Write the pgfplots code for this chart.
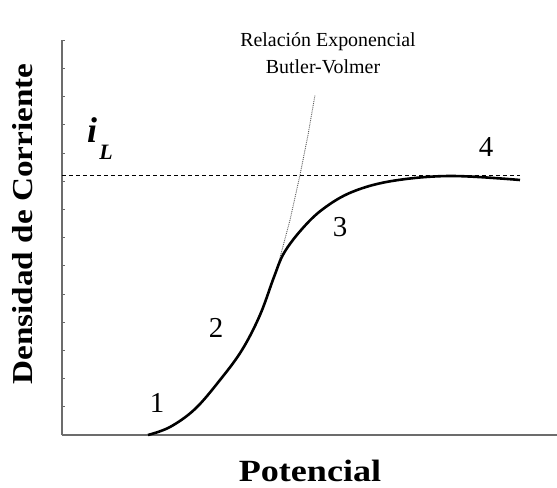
\documentclass[border=0pt]{standalone}
\usepackage{fontspec}
\setmainfont{Liberation Serif}
\usepackage{graphicx}
\usepackage{pgfplots}
\pgfplotsset{compat=1.18}

\begin{document}
\begin{tikzpicture}
\begin{axis}[
    scale only axis,
    width=495bp, height=395bp,
    xmin=0, xmax=495,
    ymin=0, ymax=395,
    axis x line*=bottom,
    axis y line*=left,
    axis line style={gray!85!black, line width=1.4bp},
    xtick=\empty,
    ytick={0,28.2,...,395},
    yticklabels={},
    tick align=inside,
    major tick length=3bp,
    tick style={gray!80!black, line width=0.8bp},
    clip=false,
]
% limiting current level
\addplot[black, line width=0.8bp, dash pattern=on 4bp off 3bp] coordinates {(0,260) (458,260)};
% Butler-Volmer exponential extrapolation
\addplot[gray!70!black, line width=0.9bp, densely dotted] coordinates {
    (216,170) (228,215) (238,260) (246,300) (253,340)};
% polarization curve
\addplot[black, line width=2.6bp, smooth, tension=0.6] coordinates {
    (86,0) (108,8) (133,26) (158,55) (180,85) (198,120) (212,158)
    (222,182) (240,206) (261,226) (290,243) (330,254) (388,259) (458,255)};

\node[anchor=base, font=\fontsize{20}{24}\selectfont] at (axis cs:266,388) {Relación Exponencial};
\node[anchor=base, font=\fontsize{20}{24}\selectfont] at (axis cs:261,361) {Butler-Volmer};
\node[anchor=base, font=\fontsize{29}{32}\selectfont] at (axis cs:95,23) {1};
\node[anchor=base, font=\fontsize{29}{32}\selectfont] at (axis cs:154,97) {2};
\node[anchor=base, font=\fontsize{29}{32}\selectfont] at (axis cs:278,198) {3};
\node[anchor=base, font=\fontsize{29}{32}\selectfont] at (axis cs:424,278) {4};
\node[anchor=base, font=\fontsize{36}{40}\selectfont\bfseries\itshape] at (axis cs:30,292) {i};
\node[anchor=base, font=\fontsize{22}{26}\selectfont\bfseries\itshape] at (axis cs:44,275) {L};
\node[anchor=base, font=\fontsize{31}{34}\selectfont\bfseries] at (axis cs:248,-46) {\scalebox{1.17}[1]{Potencial}};
\node[rotate=90, anchor=center, font=\fontsize{29}{32}\selectfont\bfseries] at (axis cs:-39,211) {\scalebox{1.15}[1]{Densidad de Corriente}};

\coordinate (bbll) at (axis cs:-62,-53);
\coordinate (bbur) at (axis cs:495,435);
\end{axis}
\pgfresetboundingbox
\path (bbll) rectangle (bbur);
\end{tikzpicture}
\end{document}
